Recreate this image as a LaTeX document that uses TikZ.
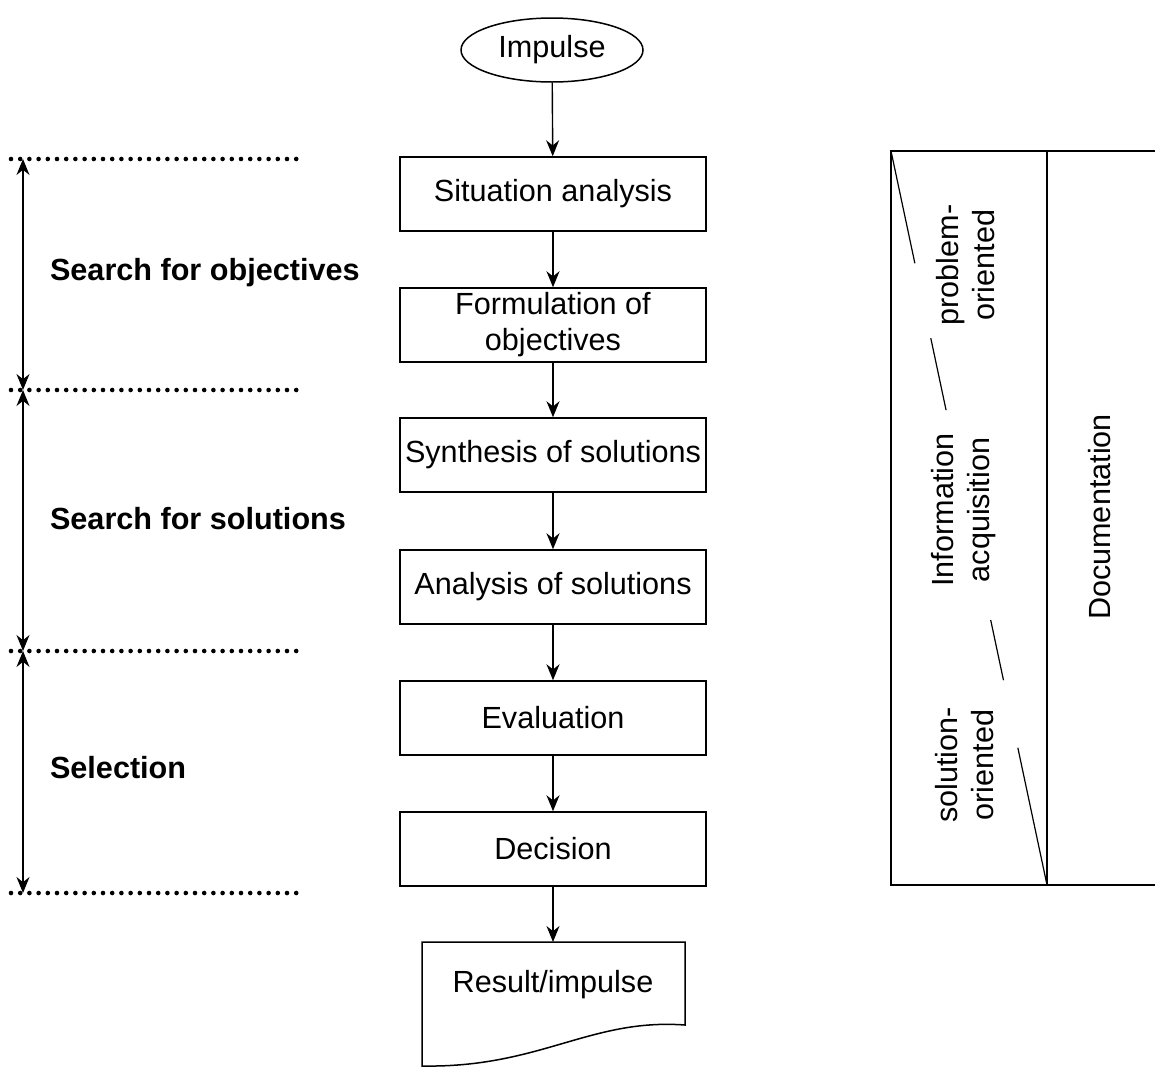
\documentclass[tikz,border=0pt]{standalone}
\usepackage{fontspec}
\setmainfont{Liberation Sans}
\usepackage{tikz}
\usetikzlibrary{shapes.geometric,arrows.meta,calc}
\newcommand{\labelsize}{\fontsize{15.3}{18}\selectfont}
\tikzset{
        stepbox/.style={draw, line width=0.75pt, minimum width=153pt, minimum height=37pt, inner sep=0pt, align=center},
        flow/.style={line width=0.7pt, -{Stealth[length=8pt,width=6.5pt]}},
        span/.style={line width=0.7pt, {Stealth[length=8pt,width=6.5pt]}-{Stealth[length=8pt,width=6.5pt]}},
        dots/.style={line width=2.3pt, line cap=round, dash pattern=on 0pt off 4.6pt},
        phase/.style={anchor=west, font=\labelsize\bfseries},
        frame/.style={line width=0.75pt}
}

\begin{document}
\begin{tikzpicture}[x=0.5pt, y=-0.5pt, font=\labelsize]
        \useasboundingbox (0,0) rectangle (1155,1066);
        % flow chart
        \node (v0) [ellipse, draw, line width=0.75pt, minimum width=91pt, minimum height=32pt, inner sep=0pt] at (552, 50) {Impulse};
        \node (v1) [stepbox] at (553, 194) {Situation analysis};
        \node (v2) [stepbox] at (553, 325) {Formulation of\\objectives};
        \node (v3) [stepbox] at (553, 455) {Synthesis of solutions};
        \node (v4) [stepbox] at (553, 587) {Analysis of solutions};
        \node (v5) [stepbox] at (553, 718) {Evaluation};
        \node (v6) [stepbox] at (553, 849) {Decision};
        \node (v7) [inner sep=0pt] at (553, 985) {Result/impulse};
        \coordinate (r0) at (553, 942);
        \draw[frame] (422, 942) -- (685, 942) -- (685, 1025)
                .. controls (590, 1018) and (540, 1068) .. (422, 1066) -- cycle;
        \draw (v0) edge [flow] (v1);
        \draw (v1) edge [flow] (v2);
        \draw (v2) edge [flow] (v3);
        \draw (v3) edge [flow] (v4);
        \draw (v4) edge [flow] (v5);
        \draw (v5) edge [flow] (v6);
        \draw (v6) edge [flow] (r0);
        % phases on the left
        \coordinate (a0) at (23, 159);
        \coordinate (a1) at (23, 390);
        \coordinate (a2) at (23, 651);
        \coordinate (a3) at (23, 893);
        \coordinate (e0) at (299, 159);
        \coordinate (e1) at (299, 390);
        \coordinate (e2) at (299, 651);
        \coordinate (e3) at (299, 893);
        \draw[dots] (11, 159) -- (e0);
        \draw[dots] (11, 390) -- (e1);
        \draw[dots] (11, 651) -- (e2);
        \draw[dots] (11, 893) -- (e3);
        \draw (a0) edge [span] (a1);
        \draw (a1) edge [span] (a2);
        \draw (a2) edge [span] (a3);
        \node (p0) [phase] at (43, 273) {Search for objectives};
        \node (p1) [phase] at (43, 519) {Search for solutions};
        \node (p2) [phase] at (43, 768) {Selection};
        % information and documentation
        \coordinate (tl) at (891, 151);
        \coordinate (br) at (1047, 885);
        \draw[frame] (1165, 151) -- (tl) -- (891, 885) -- (1165, 885);
        \draw[frame] (1047, 151) -- (br);
        \node (i0) [rotate=90, align=center] at (966, 265) {problem-\\oriented};
        \node (i1) [rotate=90, align=center] at (964, 510) {Information\\acquisition};
        \node (i2) [rotate=90, align=center] at (965, 765) {solution-\\oriented};
        \node (i3) [rotate=90] at (1100, 517) {Documentation};
        \draw[line width=0.6pt] (tl) -- ($(tl)!0.153!(br)$);
        \draw[line width=0.6pt] ($(tl)!0.255!(br)$) -- ($(tl)!0.353!(br)$);
        \draw[line width=0.6pt] ($(tl)!0.639!(br)$) -- ($(tl)!0.721!(br)$);
        \draw[line width=0.6pt] ($(tl)!0.813!(br)$) -- (br);
\end{tikzpicture}
\end{document}
